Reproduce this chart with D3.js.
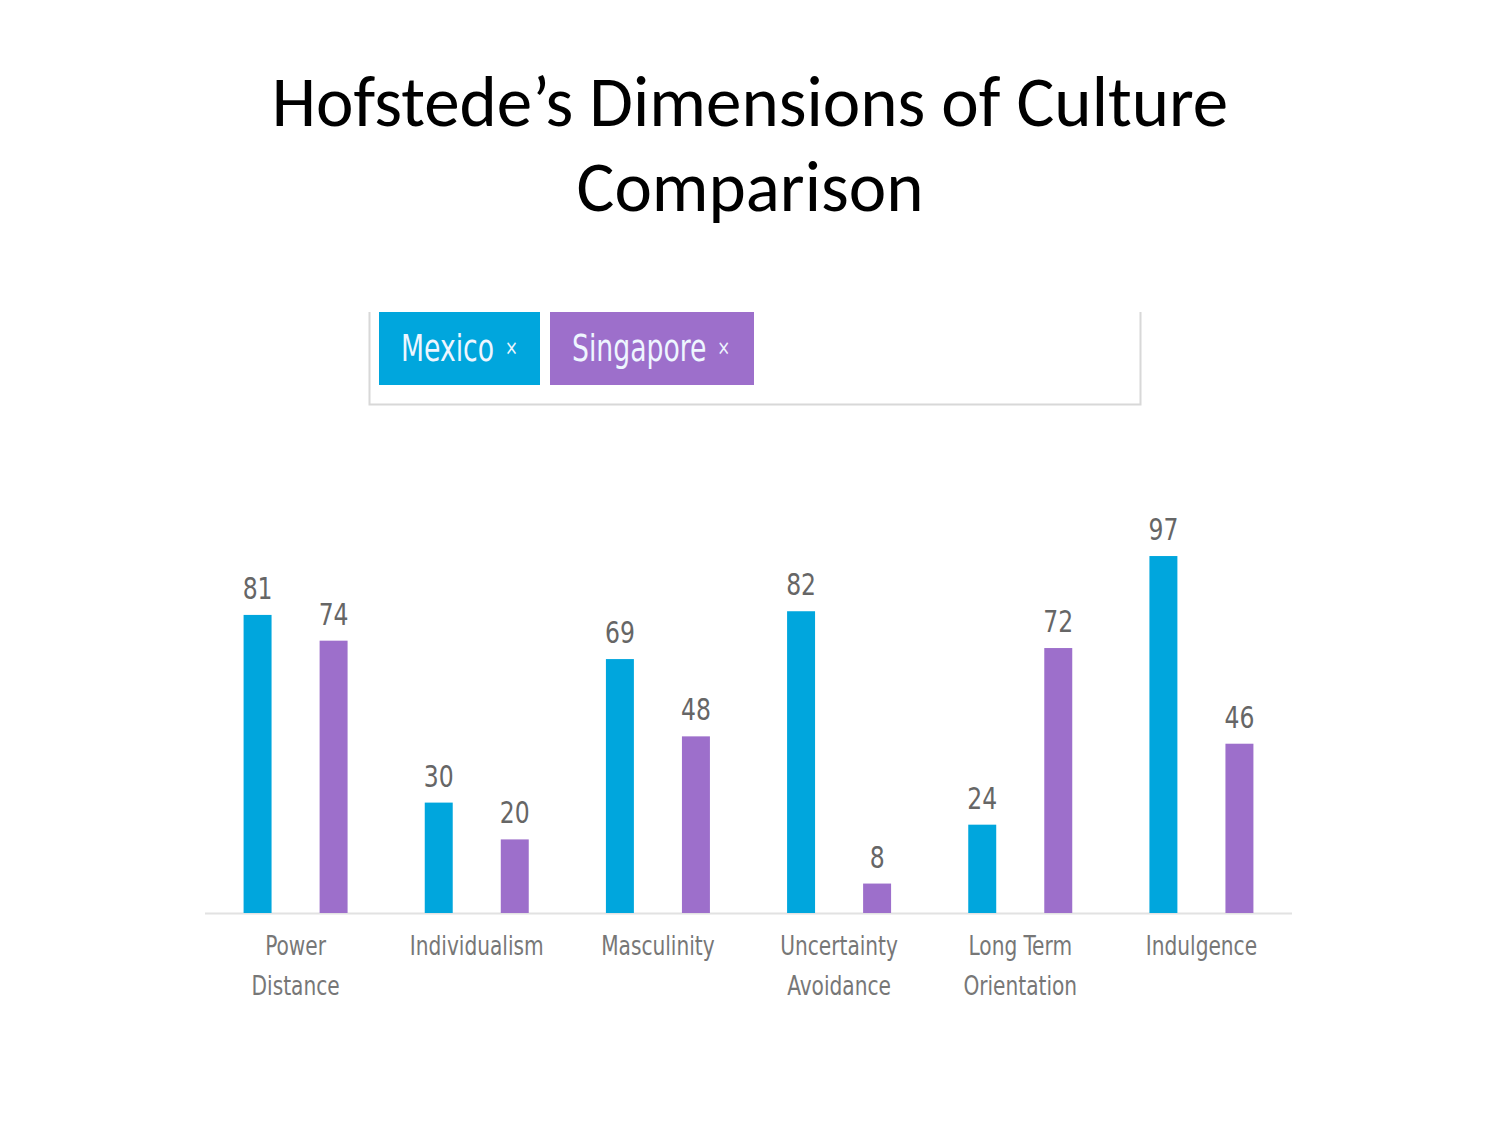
<!DOCTYPE html>
<html><head><meta charset="utf-8">
<script src="https://cdn.jsdelivr.net/npm/d3@7"></script>
<style>body{margin:0;background:#fff}svg{display:block}</style>
</head><body>
<script>
const categories = [["Power","Distance"],["Individualism"],["Masculinity"],["Uncertainty","Avoidance"],["Long Term","Orientation"],["Indulgence"]];
const series = ["Mexico","Singapore"];
const mexico = [81,30,69,82,24,97];
const singapore = [74,20,48,8,72,46];
const colors = ["#00a6dd","#9d6fcb"];

const W=1500,H=1125;
const svg=d3.select("body").append("svg").attr("width",W).attr("height",H);

// title
const titleFont="Carlito, Lato, 'Liberation Sans', sans-serif";
svg.append("text").attr("x",750).attr("y",126).attr("text-anchor","middle")
  .attr("font-family",titleFont).attr("font-size",71).attr("fill","#000")
  .text("Hofstede\u2019s Dimensions of Culture");
svg.append("text").attr("x",750).attr("y",211).attr("text-anchor","middle")
  .attr("font-family",titleFont).attr("font-size",71).attr("fill","#000")
  .text("Comparison");

const condensed="'DejaVu Sans Condensed','DejaVu Sans',sans-serif";
function ctext(sel,x,y,sx){
  return sel.append("text").attr("transform",`translate(${x},${y}) scale(${sx},1)`).attr("font-family",condensed);
}

// legend box
const lg=svg.append("g");
lg.append("path").attr("d","M369.5,312 V404.5 H1140.5 V312").attr("fill","none").attr("stroke","#d8d8d8").attr("stroke-width",2);
const tags=[{x:379,w:161},{x:550,w:204}];
series.forEach((s,i)=>{
  lg.append("rect").attr("x",tags[i].x).attr("y",312).attr("width",tags[i].w).attr("height",73).attr("fill",colors[i]);
  const t=ctext(lg,tags[i].x+22,361,0.78).attr("fill","#eef6ff").attr("font-size",38);
  t.append("tspan").text(s);
  t.append("tspan").attr("dx",14).attr("font-size",22).attr("dy",-6).text("\u00d7");
});

// chart
const x0=d3.scaleBand().domain(d3.range(categories.length)).range([205,1292]);
const x1=d3.scaleBand().domain(series).range([-52,52]).paddingInner(0.632);
const y=d3.scaleLinear().domain([0,100]).range([913,545]);

const data=categories.map((c,i)=>({c,vals:[mexico[i],singapore[i]]}));
const g=svg.append("g");
g.append("line").attr("x1",205).attr("x2",1292).attr("y1",913.5).attr("y2",913.5).attr("stroke","#e2e2e2").attr("stroke-width",2);

const grp=g.selectAll("g.grp").data(data).join("g").attr("class","grp")
  .attr("transform",(d,i)=>`translate(${x0(i)+x0.bandwidth()/2},0)`);
grp.selectAll("rect").data(d=>d.vals.map((v,j)=>({v,s:series[j],j}))).join("rect")
  .attr("x",d=>x1(d.s)).attr("width",x1.bandwidth())
  .attr("y",d=>y(d.v)).attr("height",d=>y(0)-y(d.v)).attr("fill",d=>colors[d.j]);
grp.each(function(d){
  const gg=d3.select(this);
  d.vals.forEach((v,j)=>{
    ctext(gg,x1(series[j])+x1.bandwidth()/2,y(v)-16,0.87).attr("text-anchor","middle")
      .attr("font-size",30).attr("fill","#666").text(v);
  });
  d.c.forEach((line,k)=>{
    ctext(gg,0,955+k*40,0.83).attr("text-anchor","middle")
      .attr("font-size",27).attr("fill","#777").text(line);
  });
});
</script>
</body></html>
